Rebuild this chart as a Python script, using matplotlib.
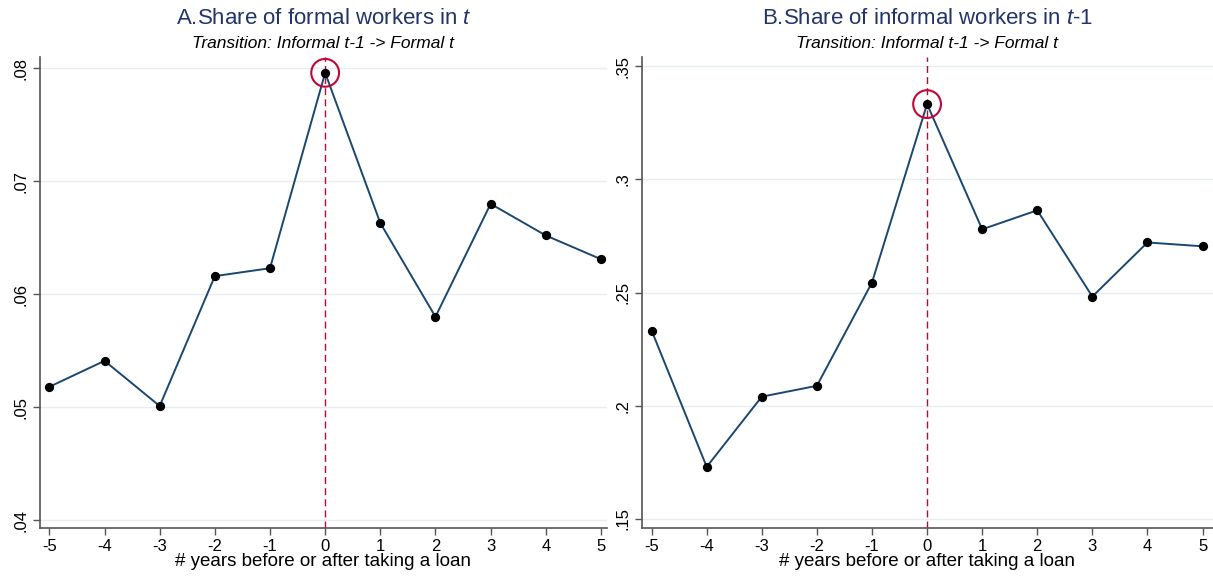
import matplotlib
matplotlib.use("Agg")
import matplotlib.pyplot as plt

plt.rcParams['font.family'] = ['Liberation Sans', 'DejaVu Sans']
plt.rcParams['mathtext.fontset'] = 'custom'
plt.rcParams['mathtext.rm'] = 'Liberation Sans'
plt.rcParams['mathtext.it'] = 'Liberation Sans:italic'

years = [-5, -4, -3, -2, -1, 0, 1, 2, 3, 4, 5]
share_formal_t = [0.0518, 0.0541, 0.0501, 0.0616, 0.0623, 0.0796, 0.0663, 0.0580, 0.0680, 0.0652, 0.0631]
share_informal_t1 = [0.2332, 0.1730, 0.2040, 0.2088, 0.2544, 0.3332, 0.2779, 0.2863, 0.2482, 0.2721, 0.2704]

titles = ["A.Share of formal workers in $\\mathit{t}$",
          "B.Share of informal workers in $\\mathit{t}$-1"]
subtitle = "Transition: Informal t-1 -> Formal t"
xlabel = "# years before or after taking a loan"
yticks_a = [0.04, 0.05, 0.06, 0.07, 0.08]
ylabels_a = [".04", ".05", ".06", ".07", ".08"]
yticks_b = [0.15, 0.20, 0.25, 0.30, 0.35]
ylabels_b = [".15", ".2", ".25", ".3", ".35"]

navy = "#1a476f"
title_col = "#22356b"
red = "#c10534"
grid = "#e6eef2"
spine = "#555555"

fig = plt.figure(figsize=(12.13, 5.78), dpi=100)
W, H = 1213, 578
top_px, bot_px = 57, 528
axA = fig.add_axes([40 / W, 1 - bot_px / H, (607 - 40) / W, (bot_px - top_px) / H])
axB = fig.add_axes([641.7 / W, 1 - bot_px / H, (1213 - 641.7) / W, (bot_px - top_px) / H])

panels = [
    (axA, share_formal_t, yticks_a, ylabels_a, (-5.17, 5.11), (0.0393, 0.0810), titles[0]),
    (axB, share_informal_t1, yticks_b, ylabels_b, (-5.18, 5.19), (0.1460, 0.3540), titles[1]),
]

for ax, vals, yt, yl, xlim, ylim, title in panels:
    ax.set_xlim(*xlim)
    ax.set_ylim(*ylim)
    ax.set_yticks(yt)
    ax.set_yticklabels(yl, rotation=90, va='center', fontsize=12)
    ax.set_xticks(years)
    ax.set_xticklabels([str(y) for y in years], fontsize=12)
    for s in ['top', 'right']:
        ax.spines[s].set_visible(False)
    for s in ['left', 'bottom']:
        ax.spines[s].set_color(spine)
        ax.spines[s].set_linewidth(1.2)
    ax.tick_params(axis='both', length=5, width=1.0, color=spine, pad=3)
    ax.grid(axis='y', color=grid, linewidth=1.0)
    ax.set_axisbelow(True)
    ax.axvline(0, color=red, linestyle=(0, (5, 3)), linewidth=1.0, zorder=1)
    ax.plot(years, vals, color=navy, linewidth=1.4, zorder=2)
    ax.scatter(years, vals, color='black', s=32, zorder=3)
    i0 = years.index(0)
    ax.scatter([years[i0]], [vals[i0]], s=400, facecolors='none', edgecolors=red,
               linewidths=1.5, zorder=4)
    ax.set_xlabel(xlabel, fontsize=13.5, labelpad=-1)
    bb = ax.get_position()
    cx = (bb.x0 + bb.x1) / 2
    fig.text(cx, 1 - 18 / H, title, ha='center', va='center', fontsize=16, color=title_col)
    fig.text(cx, 1 - 44 / H, subtitle, ha='center', va='center', fontsize=12.5,
             style='italic', color='black')

fig.savefig("out.png", dpi=100)
